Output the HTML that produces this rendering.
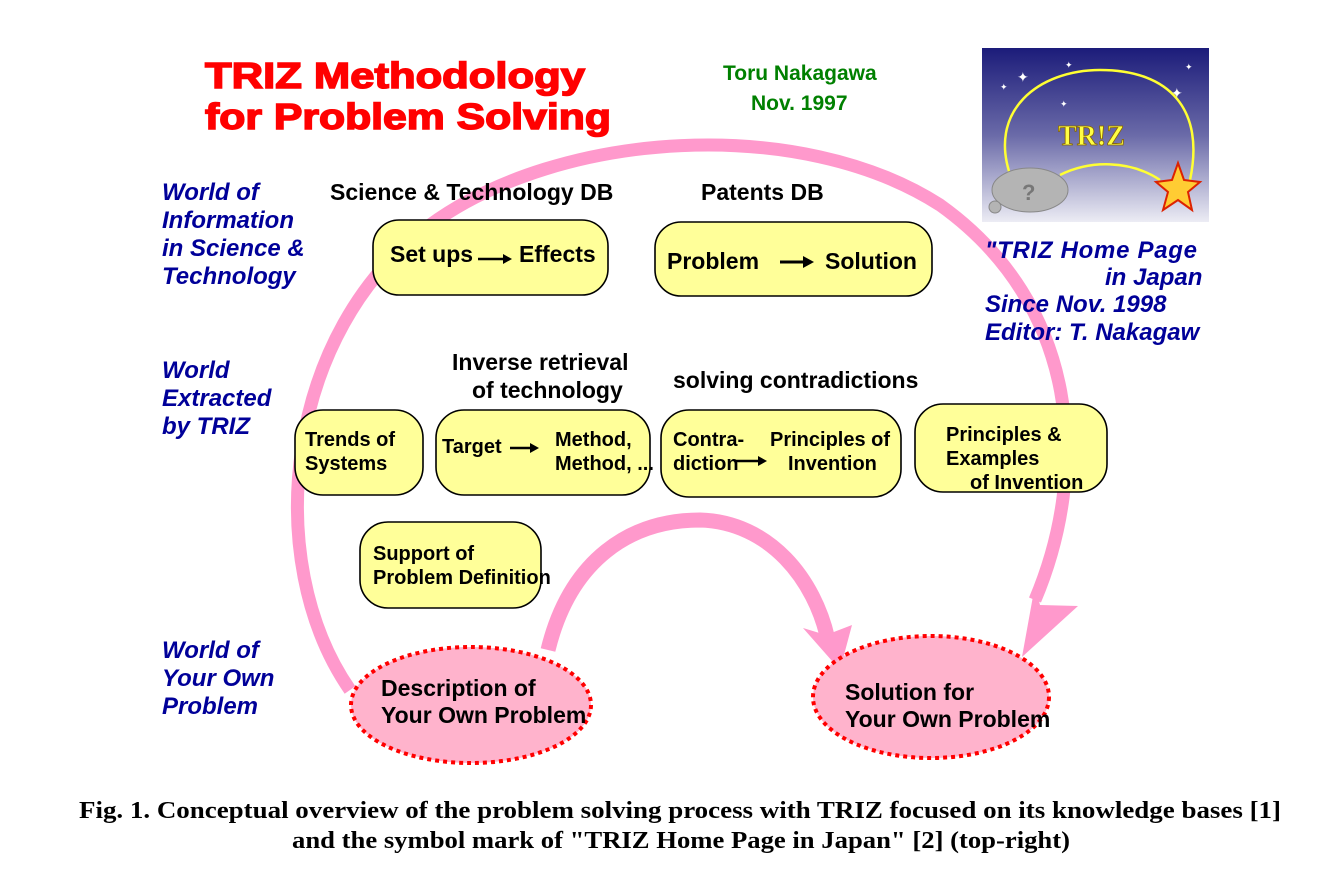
<!DOCTYPE html>
<html><head><meta charset="utf-8"><style>
html,body{margin:0;padding:0;background:#fff;}
svg{display:block}
.b{font-family:"Liberation Sans",sans-serif;font-weight:bold;fill:#000}
.w{font-family:"Liberation Sans",sans-serif;font-weight:bold;font-style:italic;fill:#000099;font-size:24px}
.box{fill:#ffff99;stroke:#000;stroke-width:1.6}
</style></head><body>
<svg width="1322" height="872" viewBox="0 0 1322 872" xmlns="http://www.w3.org/2000/svg">
<path d="M350,690 C260,560 285,330 430,225 C560,130 800,115 940,205 C1080,305 1090,470 1035,600" fill="none" stroke="#ff99cc" stroke-width="13"/>
<polygon points="1022,657 1035,585 1040,605 1078,606" fill="#ff99cc"/>
<path d="M548,650 C570,560 630,520 700,520 C770,522 815,580 828,640" fill="none" stroke="#ff99cc" stroke-width="15"/>
<polygon points="840,670 803,628 826,635 852,625" fill="#ff99cc"/>

<text class="b" x="205" y="88" font-size="36" style="fill:#ff0000;stroke:#ff0000;stroke-width:1.5" textLength="380" lengthAdjust="spacingAndGlyphs">TRIZ Methodology</text>
<text class="b" x="205" y="129" font-size="36" style="fill:#ff0000;stroke:#ff0000;stroke-width:1.5" textLength="406" lengthAdjust="spacingAndGlyphs">for Problem Solving</text>
<text class="b" x="723" y="80" font-size="21" style="fill:#008000">Toru Nakagawa</text>
<text class="b" x="751" y="110" font-size="21" style="fill:#008000">Nov. 1997</text>

<defs><linearGradient id="g" x1="0" y1="0" x2="0" y2="1"><stop offset="0" stop-color="#1c1c7a"/><stop offset="0.5" stop-color="#6a6aa8"/><stop offset="1" stop-color="#ececf4"/></linearGradient></defs>
<rect x="982" y="48" width="227" height="174" fill="url(#g)"/>
<path d="M1012,180 C985,110 1040,70 1100,70 C1170,70 1205,110 1190,180" fill="none" stroke="#ffff33" stroke-width="2.5"/>
<path d="M1060,175 C1090,160 1130,160 1160,180" fill="none" stroke="#ffff33" stroke-width="2.5"/>
<text x="1058" y="145" font-family="Liberation Serif,serif" font-weight="bold" font-size="28" fill="#ffff44" stroke="#886600" stroke-width="0.8">TR!Z</text>
<ellipse cx="1030" cy="190" rx="38" ry="22" fill="#b4b4b4" stroke="#888"/>
<circle cx="995" cy="207" r="6" fill="#b4b4b4" stroke="#888"/>
<text x="1022" y="200" font-family="Liberation Sans,sans-serif" font-weight="bold" font-size="22" fill="#777">?</text>
<polygon points="1178,163 1184,180 1200,182 1188,192 1192,210 1178,200 1163,210 1168,192 1156,182 1172,180" fill="#ffcc33" stroke="#dd2200" stroke-width="2"/>
<text x="1017" y="82" fill="#fff" font-size="14">✦</text><text x="1065" y="68" fill="#fff" font-size="9">✦</text><text x="1185" y="70" fill="#fff" font-size="9">✦</text><text x="1171" y="98" fill="#fff" font-size="14">✦</text><text x="1000" y="90" fill="#fff" font-size="9">✦</text><text x="1060" y="107" fill="#fff" font-size="9">✦</text>

<text class="w" x="985" y="258" textLength="212">"TRIZ Home Page</text>
<text class="w" x="1105" y="285">in Japan</text>
<text class="w" x="985" y="312">Since Nov. 1998</text>
<text class="w" x="985" y="340">Editor: T. Nakagaw</text>

<text class="w" x="162" y="200">World of</text>
<text class="w" x="162" y="228">Information</text>
<text class="w" x="162" y="256">in Science &amp;</text>
<text class="w" x="162" y="284">Technology</text>
<text class="w" x="162" y="378">World</text>
<text class="w" x="162" y="406">Extracted</text>
<text class="w" x="162" y="434">by TRIZ</text>
<text class="w" x="162" y="658">World of</text>
<text class="w" x="162" y="686">Your Own</text>
<text class="w" x="162" y="714">Problem</text>

<text class="b" x="330" y="200" font-size="23">Science &amp; Technology DB</text>
<text class="b" x="701" y="200" font-size="23">Patents DB</text>
<text class="b" x="452" y="370" font-size="23">Inverse retrieval</text>
<text class="b" x="472" y="398" font-size="23">of technology</text>
<text class="b" x="673" y="388" font-size="23">solving contradictions</text>

<rect class="box" x="373" y="220" width="235" height="75" rx="26"/>
<text class="b" x="390" y="262" font-size="23">Set ups</text>
<text class="b" x="519" y="262" font-size="23">Effects</text>
<line x1="478" y1="259" x2="505" y2="259" stroke="#000" stroke-width="2.5"/><polygon points="503,254 512,259 503,264"/>

<rect class="box" x="655" y="222" width="277" height="74" rx="26"/>
<text class="b" x="667" y="269" font-size="23">Problem</text>
<text class="b" x="825" y="269" font-size="23">Solution</text>
<line x1="780" y1="262" x2="805" y2="262" stroke="#000" stroke-width="3"/><polygon points="803,256 814,262 803,268"/>

<rect class="box" x="295" y="410" width="128" height="85" rx="28"/>
<text class="b" x="305" y="446" font-size="20">Trends of</text>
<text class="b" x="305" y="470" font-size="20">Systems</text>

<rect class="box" x="436" y="410" width="214" height="85" rx="28"/>
<text class="b" x="442" y="453" font-size="20">Target</text>
<line x1="510" y1="448" x2="532" y2="448" stroke="#000" stroke-width="2.5"/><polygon points="530,443 539,448 530,453"/>
<text class="b" x="555" y="446" font-size="20">Method,</text>
<text class="b" x="555" y="470" font-size="20">Method, ...</text>

<rect class="box" x="661" y="410" width="240" height="87" rx="28"/>
<text class="b" x="673" y="446" font-size="20">Contra-</text>
<text class="b" x="673" y="470" font-size="20">diction</text>
<line x1="735" y1="461" x2="760" y2="461" stroke="#000" stroke-width="2.5"/><polygon points="758,456 767,461 758,466"/>
<text class="b" x="770" y="446" font-size="20">Principles of</text>
<text class="b" x="788" y="470" font-size="20">Invention</text>

<rect class="box" x="915" y="404" width="192" height="88" rx="28"/>
<text class="b" x="946" y="441" font-size="20">Principles &amp;</text>
<text class="b" x="946" y="465" font-size="20">Examples</text>
<text class="b" x="970" y="489" font-size="20">of Invention</text>

<rect class="box" x="360" y="522" width="181" height="86" rx="28"/>
<text class="b" x="373" y="560" font-size="20">Support of</text>
<text class="b" x="373" y="584" font-size="20">Problem Definition</text>

<ellipse cx="471" cy="705" rx="120" ry="58" fill="#ffb3cc" stroke="#ff0000" stroke-width="4" stroke-dasharray="4,4"/>
<text class="b" x="381" y="696" font-size="23">Description of</text>
<text class="b" x="381" y="723" font-size="23">Your Own Problem</text>
<ellipse cx="931" cy="697" rx="118" ry="61" fill="#ffb3cc" stroke="#ff0000" stroke-width="4" stroke-dasharray="4,4"/>
<text class="b" x="845" y="700" font-size="23">Solution for</text>
<text class="b" x="845" y="727" font-size="23">Your Own Problem</text>

<text x="79" y="818" font-family="Liberation Serif,serif" font-weight="bold" font-size="24" textLength="1202" lengthAdjust="spacingAndGlyphs">Fig. 1.   Conceptual overview of the problem solving process with TRIZ focused on its knowledge bases [1]</text>
<text x="292" y="848" font-family="Liberation Serif,serif" font-weight="bold" font-size="24" textLength="778" lengthAdjust="spacingAndGlyphs">and the symbol mark of "TRIZ Home Page in Japan"  [2] (top-right)</text>
</svg>
</body></html>
